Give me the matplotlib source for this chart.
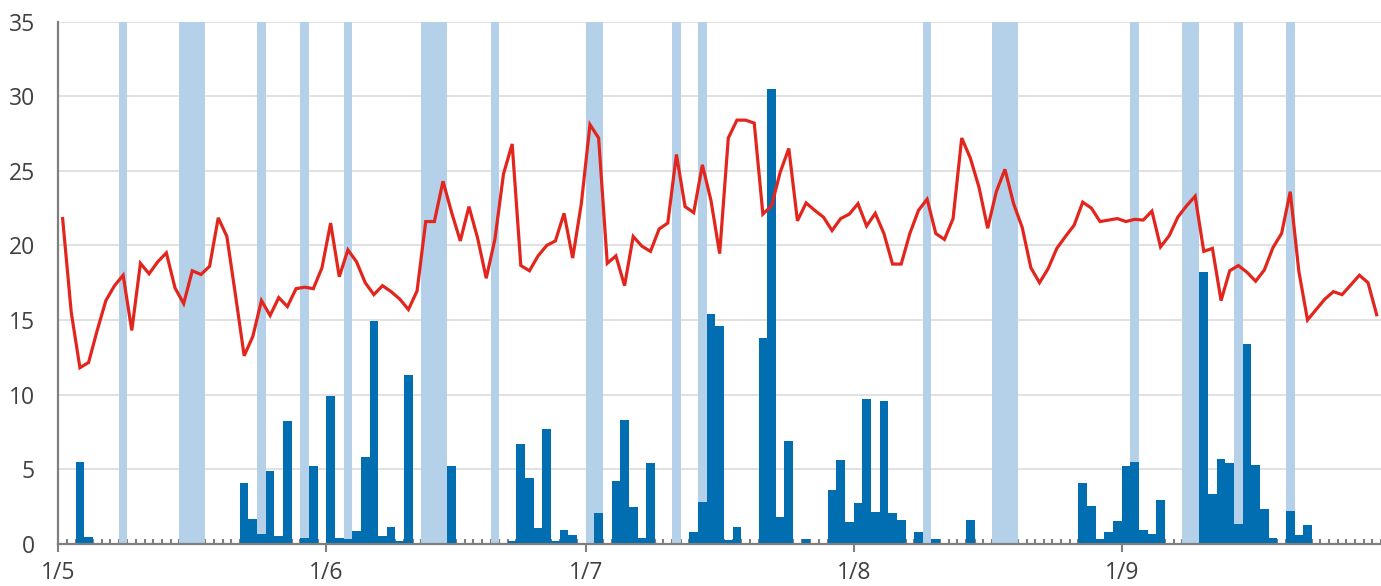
import numpy as np
import matplotlib
matplotlib.use('Agg')
import matplotlib.pyplot as plt

# daily values, 1 May .. 30 Sep (153 days)
temp_may = [21.8, 15.5, 11.8, 12.15, 14.3, 16.3, 17.3, 18.0, 14.3, 18.8, 18.1, 18.9, 19.5, 17.15, 16.1,
            18.3, 18.05, 18.6, 21.85, 20.6, 16.65, 12.6, 13.9, 16.3, 15.3, 16.5, 15.9, 17.1, 17.2, 17.1, 18.5]
temp_jun = [21.5, 17.9, 19.7, 18.9, 17.5, 16.7, 17.3, 16.9, 16.4, 15.7, 16.95, 21.6, 21.6, 24.3, 22.2,
            20.3, 22.6, 20.5, 17.8, 20.4, 24.8, 26.8, 18.65, 18.3, 19.3, 20.0, 20.3, 22.15, 19.15, 22.8]
temp_jul = [28.1, 27.2, 18.8, 19.3, 17.3, 20.6, 19.95, 19.6, 21.1, 21.5, 26.1, 22.6, 22.2, 25.4, 23.0,
            19.45, 27.2, 28.4, 28.4, 28.2, 22.1, 22.65, 24.9, 26.5, 21.65, 22.85, 22.35, 21.9, 21.0, 21.8, 22.1]
temp_aug = [22.8, 21.3, 22.15, 20.8, 18.75, 18.75, 20.8, 22.35, 23.1, 20.8, 20.4, 21.8, 27.2, 25.85, 23.9,
            21.15, 23.6, 25.1, 22.8, 21.2, 18.5, 17.5, 18.45, 19.8, 20.6, 21.35, 22.9, 22.5, 21.6, 21.7, 21.8]
temp_sep = [21.6, 21.75, 21.7, 22.3, 19.9, 20.65, 21.9, 22.65, 23.3, 19.6, 19.8, 16.3, 18.3, 18.65, 18.2,
            17.6, 18.35, 19.85, 20.8, 23.6, 18.25, 15.0, 15.7, 16.4, 16.9, 16.7, 17.35, 18.0, 17.5, 15.35]

rain_may = [0, 0, 5.5, 0.45, 0, 0, 0, 0, 0, 0, 0, 0, 0, 0, 0,
            0, 0, 0, 0, 0, 0, 4.1, 1.65, 0.65, 4.85, 0.5, 8.2, 0, 0.35, 5.2, 0]
rain_jun = [9.9, 0.35, 0.3, 0.85, 5.8, 14.9, 0.5, 1.15, 0.15, 11.3, 0, 0, 0, 0, 5.2,
            0, 0, 0, 0, 0, 0, 0.15, 6.7, 4.4, 1.05, 7.7, 0.15, 0.9, 0.55, 0]
rain_jul = [0, 2.05, 0, 4.2, 8.3, 2.45, 0.35, 5.4, 0, 0, 0, 0, 0.8, 2.8, 15.4,
            14.6, 0.25, 1.1, 0, 0, 13.8, 30.5, 1.8, 6.9, 0, 0.3, 0, 0, 3.6, 5.6, 1.45]
rain_aug = [2.75, 9.7, 2.15, 9.6, 2.05, 1.6, 0, 0.8, 0, 0.3, 0, 0, 0, 1.6, 0,
            0, 0, 0, 0, 0, 0, 0, 0, 0, 0, 0, 4.1, 2.5, 0.3, 0.8, 1.5]
rain_sep = [5.2, 5.5, 0.9, 0.65, 2.95, 0, 0, 0, 0, 18.2, 3.3, 5.7, 5.4, 1.3, 13.4,
            5.3, 2.3, 0.35, 0, 2.2, 0.55, 1.25, 0, 0, 0, 0, 0, 0, 0, 0]

# highlighted days (index from 1 May)
shade_days = [7, 14, 15, 16, 23, 28, 33, 42, 43, 44, 50, 61, 62, 71, 74, 100,
              108, 109, 110, 124, 130, 131, 136, 142]

month_labels = ['1/5', '1/6', '1/7', '1/8', '1/9']
month_start = [0, 31, 61, 92, 123]

temp = np.array(temp_may + temp_jun + temp_jul + temp_aug + temp_sep)
rain = np.array(rain_may + rain_jun + rain_jul + rain_aug + rain_sep)
days = np.arange(len(temp))

plt.rcParams['font.family'] = ['Open Sans', 'DejaVu Sans']

W, H = 1381, 586
fig = plt.figure(figsize=(W / 100, H / 100), dpi=100)
x0, y0, y35 = 58.3, 543.7, 21.7
day_px = 8.67
ax = fig.add_axes([x0 / W, (H - y0) / H, (W - x0) / W, (y0 - y35) / H])

for d in shade_days:
    ax.axvspan(d, d + 1, color='#b4d1e9', lw=0, zorder=1)

ax.bar(days, rain, width=1.0, align='edge', color='#006eb0', lw=0, zorder=2)
ax.plot(days + 0.5, temp, color='#e2261d', lw=2.3, zorder=3, solid_joinstyle='miter')

ax.set_ylim(0, 35)
ax.set_xlim(0, (W - x0) / day_px)
ax.set_yticks(range(0, 36, 5))
ax.yaxis.grid(True, color='#d9d9d9', lw=1.1, zorder=0)
ax.set_axisbelow(True)

ax.set_xticks(month_start)
ax.set_xticklabels(month_labels)
ax.set_xticks(np.arange(0, len(temp) + 1), minor=True)

for s in ['top', 'right']:
    ax.spines[s].set_visible(False)
for s in ['left', 'bottom']:
    ax.spines[s].set_color('#7f7f7f')
    ax.spines[s].set_linewidth(1.6)
ax.spines['bottom'].set_zorder(4)

ax.tick_params(axis='y', length=0, pad=17, labelsize=16.5, labelcolor='#404040')
ax.tick_params(axis='x', which='major', direction='out', length=5.5, width=1.5,
               color='#7f7f7f', pad=7, labelsize=16.5, labelcolor='#404040')
ax.tick_params(axis='x', which='minor', direction='in', length=3.5, width=1.5, color='#7f7f7f')

fig.savefig('out.png', dpi=100)
